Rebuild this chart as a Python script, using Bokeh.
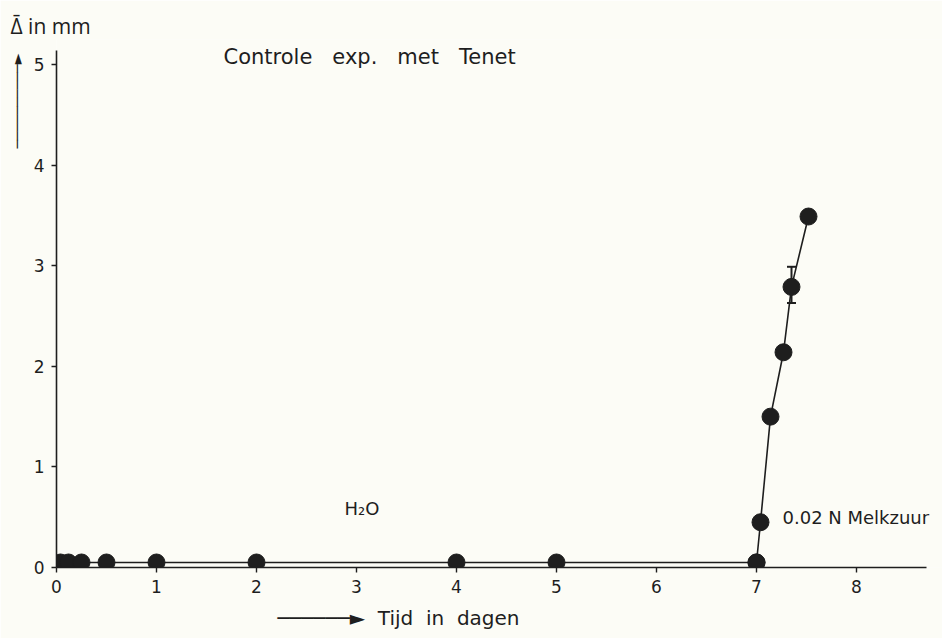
from bokeh.plotting import figure
from bokeh.models import Range1d, Label, Whisker, ColumnDataSource, TeeHead, Title
from bokeh.embed import file_html
from bokeh.resources import INLINE

# H2O control series (days, mm)
h2o_days = [0.04, 0.12, 0.25, 0.5, 1, 2, 4, 5, 7]
h2o_delta = [0.05, 0.05, 0.05, 0.05, 0.05, 0.05, 0.05, 0.05, 0.05]

# 0.02 N Melkzuur series
mz_days = [7.0, 7.04, 7.14, 7.27, 7.35, 7.52]
mz_delta = [0.05, 0.45, 1.50, 2.14, 2.79, 3.49]

# error bar
err_day = [7.35]
err_low = [2.63]
err_high = [2.99]

x_ticks = [0, 1, 2, 3, 4, 5, 6, 7, 8]
y_ticks = [0, 1, 2, 3, 4, 5]

INK = "#1e1e1e"
BG = "#fcfcf6"
FONT = "DejaVu Sans"
NB = "\u00a0"

p = figure(width=942, height=638, output_backend="svg", toolbar_location=None,
           x_range=Range1d(0, 8.86), y_range=Range1d(0, 5.25),
           min_border_left=56, min_border_right=0, min_border_top=39, min_border_bottom=71,
           background_fill_color=BG, border_fill_color=BG)
p.outline_line_color = None
p.grid.visible = False

for ax in (p.xaxis[0], p.yaxis[0]):
    ax.axis_line_color = INK
    ax.axis_line_width = 1.6
    ax.major_tick_line_color = INK
    ax.major_tick_line_width = 1.4
    ax.major_tick_out = 5
    ax.major_tick_in = 0
    ax.minor_tick_line_color = None
    ax.major_label_text_font = FONT
    ax.major_label_text_font_size = "17px"
    ax.major_label_text_color = INK
p.xaxis.ticker = x_ticks
p.yaxis.ticker = y_ticks
p.xaxis.bounds = (0, 8.7)
p.yaxis.bounds = (0, 5.14)
p.xaxis.major_label_standoff = 7
p.yaxis.major_label_standoff = 7

# lines
p.line([0] + h2o_days, [h2o_delta[0]] + h2o_delta, line_color=INK, line_width=1.6)
p.line(mz_days, mz_delta, line_color=INK, line_width=1.6)

# points
p.scatter(h2o_days, h2o_delta, size=17, color=INK)
p.scatter(mz_days, mz_delta, size=17, color=INK)

# error bar
src = ColumnDataSource(dict(x=err_day, lo=err_low, hi=err_high))
p.add_layout(Whisker(source=src, base="x", lower="lo", upper="hi", dimension="height",
                     line_color=INK, line_width=2,
                     upper_head=TeeHead(size=9, line_color=INK, line_width=2),
                     lower_head=TeeHead(size=9, line_color=INK, line_width=2)))

# texts inside the frame
p.add_layout(Label(x=1.67, y=5.08, text=f"Controle{NB}{NB} exp.{NB}{NB} met{NB}{NB} Tenet",
                   text_font=FONT, text_font_size="21px", text_color=INK, text_baseline="middle"))
p.add_layout(Label(x=2.88, y=0.59, text="H\u2082O", text_font=FONT,
                   text_font_size="18px", text_color=INK, text_baseline="middle"))
p.add_layout(Label(x=7.26, y=0.50, text="0.02 N Melkzuur", text_font=FONT,
                   text_font_size="18px", text_color=INK, text_baseline="middle"))

# texts outside the frame (side panels)
p.add_layout(Title(text="\u0394\u0304 in mm", align="left", offset=-46, text_font="Open Sans",
                   text_font_size="21px", text_font_style="normal", text_color=INK,
                   standoff=0), "above")
p.add_layout(Title(text="\u2500" * 10 + "\u25ba", align="right", offset=14, text_font=FONT,
                   text_font_size="14px", text_font_style="normal", text_color=INK,
                   standoff=11), "left")
p.add_layout(Title(text="\u2500" * 6 + f"\u25ba{NB} Tijd{NB} in{NB} dagen", align="left",
                   offset=221, text_font=FONT, text_font_size="20px", text_font_style="normal",
                   text_color=INK, standoff=17), "below")

open("out.html", "w").write(file_html(p, INLINE))
